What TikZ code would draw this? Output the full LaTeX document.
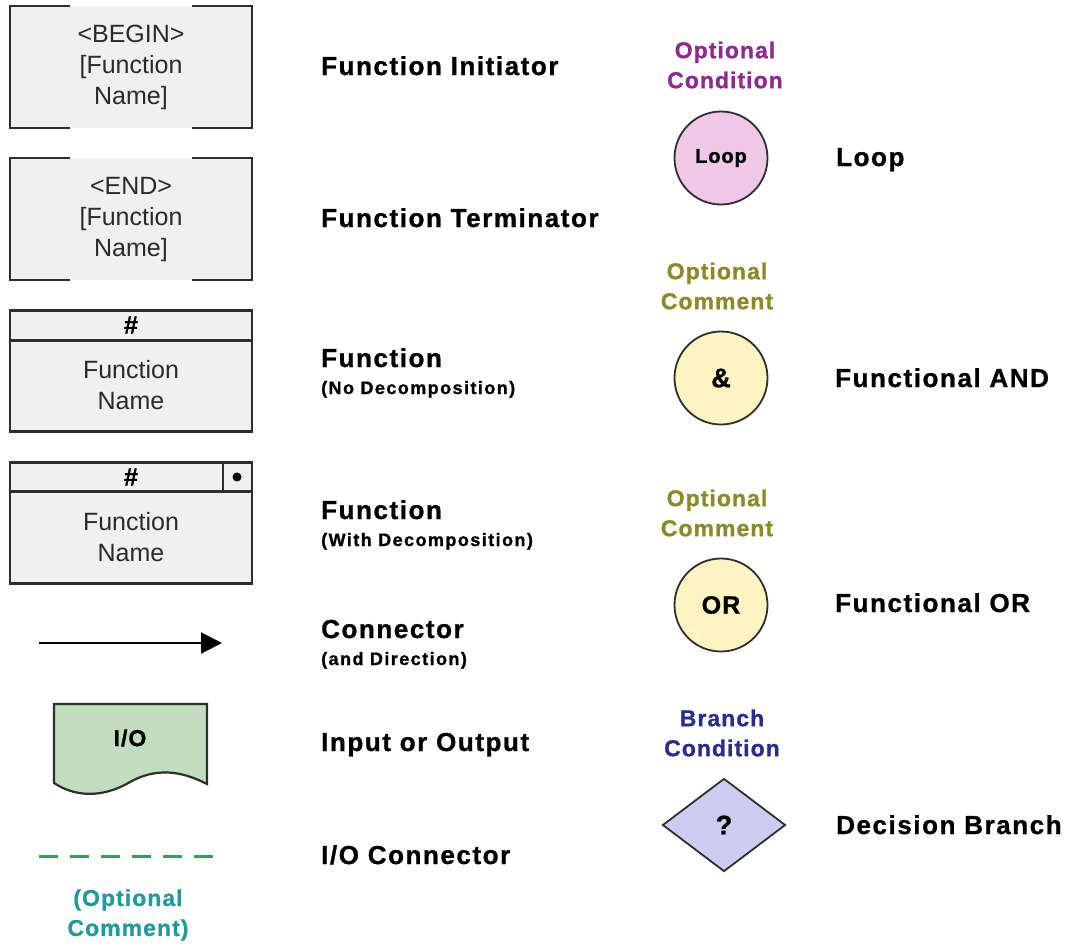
\documentclass[tikz,border=0pt]{standalone}
\usepackage{fontspec}
\setmainfont{Liberation Sans}
\newfontfamily\lblfont{Liberation Sans}[LetterSpace=6, BoldFeatures={FakeBold=1}]
\newfontfamily\smallfont{Liberation Sans}[LetterSpace=8, BoldFeatures={FakeBold=1}]
\newfontfamily\notefont{Liberation Sans}[LetterSpace=4.5, BoldFeatures={FakeBold=1}]
\usetikzlibrary{arrows.meta,shapes.geometric,calc}

\definecolor{boxfill}{HTML}{F0F0F0}
\definecolor{boxline}{HTML}{2E2E2E}
\definecolor{iofill}{HTML}{C2DCC0}
\definecolor{ioline}{HTML}{3A9A5C}
\definecolor{tealtxt}{HTML}{23999A}
\definecolor{purptxt}{HTML}{8E2A8C}
\definecolor{olivetxt}{HTML}{8A8A28}
\definecolor{bluetxt}{HTML}{2B2B8C}
\definecolor{loopfill}{HTML}{EEC8E6}
\definecolor{andfill}{HTML}{FDF4C2}
\definecolor{decfill}{HTML}{CCCCEE}
\definecolor{boxtxt}{HTML}{2A2A2A}

\tikzset{
  fnbox/.style={minimum width=242pt, minimum height=122pt, inner sep=0pt,
    fill=boxfill, align=center, text=boxtxt, font=\fontsize{25}{31}\selectfont},
  boxedge/.style={draw=boxline, line width=2.4pt},
  lbl/.style={anchor=base west, inner sep=0pt,
    font=\lblfont\bfseries\fontsize{26}{30}\selectfont},
  sublbl/.style={anchor=base west, inner sep=0pt,
    font=\smallfont\bfseries\fontsize{18}{22}\selectfont},
  note/.style={align=center, inner sep=0pt,
    font=\notefont\bfseries\fontsize{23}{30}\selectfont},
  hashtxt/.style={inner sep=0pt, font=\notefont\bfseries\fontsize{25}{26}\selectfont},
  nametxt/.style={inner sep=0pt, align=center, text=boxtxt, font=\fontsize{25}{31}\selectfont},
  roundsym/.style={circle, minimum size=93pt, draw=boxline, line width=1.8pt,
    inner sep=0pt, font=\notefont\bfseries\fontsize{25}{26}\selectfont},
}

\begin{document}
\begin{tikzpicture}[x=1pt, y=-1pt]
\useasboundingbox (0,0) rectangle (1078,945);

% ---- Function initiator and terminator (open-sided frames)
\node[fnbox] (init) at (131,67) {<BEGIN>\\{[}Function\\Name]};
\node[fnbox] (term) at (131,219) {<END>\\{[}Function\\Name]};
\foreach \b in {init,term}{
  \draw[boxedge] ([xshift=60pt]\b.north west) -- (\b.north west)
    -- (\b.south west) -- ([xshift=60pt]\b.south west);
  \draw[boxedge] ([xshift=-60pt]\b.north east) -- (\b.north east)
    -- (\b.south east) -- ([xshift=-60pt]\b.south east);
}

% ---- Function without decomposition
\node[fnbox, boxedge, minimum height=121pt] (fn1) at (131,371) {};
\draw[boxedge] ([yshift=-31pt]fn1.north west) -- ([yshift=-31pt]fn1.north east);
\node[hashtxt] (fn1num) at (131,325) {\#};
\node[nametxt] (fn1name) at (131,385) {Function\\Name};

% ---- Function with decomposition
\node[fnbox, boxedge, minimum height=121pt] (fn2) at (131,523) {};
\draw[boxedge] ([yshift=-30pt]fn2.north west) -- ([yshift=-30pt]fn2.north east);
\draw[boxedge] ([xshift=-30pt]fn2.north east) -- ([xshift=-30pt,yshift=-30pt]fn2.north east);
\node[hashtxt] (fn2num) at (131,477) {\#};
\node[circle, fill=black, minimum size=9pt, inner sep=0pt] (fn2dot) at (237,477) {};
\node[nametxt] (fn2name) at (131,537) {Function\\Name};

% ---- Connector
\coordinate (c1) at (39,643);
\coordinate (c2) at (222,643);
\draw[line width=2.2pt, draw=black, -{Triangle[length=21pt,width=21pt]}] (c1) -- (c2);

% ---- Input / Output
\draw[draw=boxline, line width=2.2pt, fill=iofill]
  (54,704) -- (207,704) -- (207,784)
  .. controls (180,770) and (155,768) .. (130,782)
  .. controls (108,795) and (80,800) .. (54,783) -- cycle;
\node[hashtxt, font=\notefont\bfseries\fontsize{23}{26}\selectfont] (io) at (130,738) {I/O};

% ---- I/O connector
\coordinate (d1) at (39,856);
\coordinate (d2) at (213,856);
\draw[draw=ioline, line width=3pt, dash pattern=on 19pt off 12pt] (d1) -- (d2);
\node[note, text=tealtxt] (ionote) at (128,915) {(Optional\\Comment)};

% ---- Left column labels
\node[lbl] (l1) at (321,75) {Function Initiator};
\node[lbl] (l2) at (321,227) {Function Terminator};
\node[lbl] (l3) at (321,367) {Function};
\node[sublbl] (l3s) at (321,394) {(No Decomposition)};
\node[lbl] (l4) at (321,519) {Function};
\node[sublbl] (l4s) at (321,546) {(With Decomposition)};
\node[lbl] (l5) at (321,638) {Connector};
\node[sublbl] (l5s) at (321,665) {(and Direction)};
\node[lbl] (l6) at (321,751) {Input or Output};
\node[lbl] (l7) at (321,864) {I/O Connector};

% ---- Loop
\node[note, text=purptxt] (loopnote) at (725,65) {Optional\\Condition};
\node[roundsym, fill=loopfill, font=\notefont\bfseries\fontsize{20}{24}\selectfont] (loop) at (721,158) {Loop};
\node[lbl] (l8) at (836,166) {Loop};

% ---- Functional AND
\node[note, text=olivetxt] (andnote) at (717,286) {Optional\\Comment};
\node[roundsym, fill=andfill, font=\notefont\bfseries\fontsize{27}{28}\selectfont] (and) at (721,378) {\&};
\node[lbl] (l9) at (835,387) {Functional AND};

% ---- Functional OR
\node[note, text=olivetxt] (ornote) at (717,513) {Optional\\Comment};
\node[roundsym, fill=andfill] (or) at (721,605) {OR};
\node[lbl] (l10) at (835,612) {Functional OR};

% ---- Decision branch
\node[note, text=bluetxt] (decnote) at (722,733) {Branch\\Condition};
\node[diamond, draw=boxline, line width=1.8pt, fill=decfill, inner sep=0pt,
  minimum width=123pt, minimum height=93pt,
  font=\notefont\bfseries\fontsize{27}{28}\selectfont] (dec) at (724,825) {?};
\node[lbl] (l11) at (836,834) {Decision Branch};
\end{tikzpicture}
\end{document}
